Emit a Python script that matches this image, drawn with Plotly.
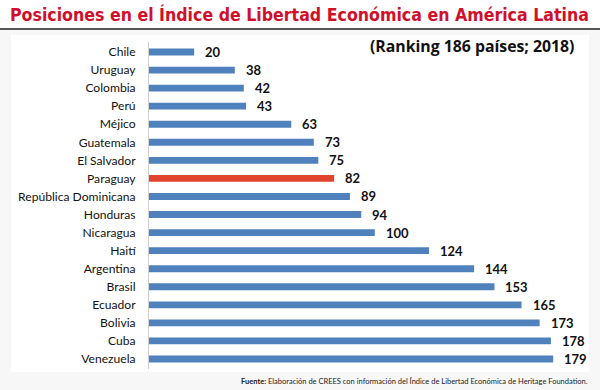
import plotly.graph_objects as go

countries = ["Chile", "Uruguay", "Colombia", "Perú", "Méjico", "Guatemala", "El Salvador",
             "Paraguay", "República Dominicana", "Honduras", "Nicaragua", "Haití", "Argentina",
             "Brasil", "Ecuador", "Bolivia", "Cuba", "Venezuela"]
ranks = [20, 38, 42, 43, 63, 73, 75, 82, 89, 94, 100, 124, 144, 153, 165, 173, 178, 179]
highlight = "Paraguay"

W, H = 600, 390
# plot area in window pixels
PL, PR, PT, PB = 149, 578, 42, 369
L, R, T, B = PL, W - PR, PT, H - PB
PW, PH = PR - PL, PB - PT


def px_x(x):
    return (x - PL) / PW


def px_y(y):
    return 1 - (y - PT) / PH


BLUE = "#4F81BD"
RED = "#E0442C"
colors = [RED if c == highlight else BLUE for c in countries]

fig = go.Figure()
fig.add_trace(go.Bar(
    x=ranks, y=countries, orientation="h",
    marker=dict(color=colors, line=dict(width=0)),
    hoverinfo="skip",
))

for c, v in zip(countries, ranks):
    fig.add_annotation(x=v, y=c, xref="x", yref="y", text=f"<b>{v}</b>",
                       showarrow=False, xanchor="left", yanchor="middle", xshift=9,
                       font=dict(family="Lato", size=13, color="#111111"))

fig.add_annotation(x=px_x(576), y=px_y(46), xref="paper", yref="paper",
                   text="<b>(Ranking 186 países; 2018)</b>", showarrow=False,
                   xanchor="right", yanchor="middle",
                   font=dict(family="Open Sans", size=15.8, color="#111111"))

fig.add_annotation(x=px_x(590), y=px_y(381), xref="paper", yref="paper",
                   text="<b>Fuente:</b> Elaboración de CREES con información del Índice de Libertad Económica de Heritage Foundation.",
                   showarrow=False, xanchor="right", yanchor="middle",
                   font=dict(family="Lato", size=7.5, color="#222222"))

# background panel and title rule
fig.add_shape(type="rect", xref="paper", yref="paper", layer="below",
              x0=px_x(11), x1=px_x(589), y0=px_y(372), y1=px_y(35),
              fillcolor="white", line=dict(width=0))
fig.add_shape(type="rect", xref="paper", yref="paper", layer="below",
              x0=px_x(0), x1=px_x(600), y0=px_y(29), y1=px_y(0),
              fillcolor="white", line=dict(width=0))
fig.add_shape(type="line", xref="paper", yref="paper",
              x0=px_x(0), x1=px_x(600), y0=px_y(29), y1=px_y(29),
              line=dict(color="#555555", width=2))

fig.update_layout(
    width=W, height=H,
    margin=dict(l=L, r=R, t=T, b=B),
    paper_bgcolor="#f7f7f7", plot_bgcolor="rgba(0,0,0,0)",
    bargap=0.62, showlegend=False,
    title=dict(text="<b>Posiciones en el Índice de Libertad Económica en América Latina</b>",
               xref="container", yref="container", x=10 / W, xanchor="left",
               y=1 - 14.5 / H, yanchor="middle",
               font=dict(family="DejaVu Sans Condensed", size=17.6, color="#D0102A")),
    xaxis=dict(range=[0, 190], visible=False, fixedrange=True),
    yaxis=dict(autorange="reversed", showline=True, linecolor="#d0d0d0", linewidth=1,
               ticks="", showgrid=False, ticklabelstandoff=10, fixedrange=True,
               tickfont=dict(family="Lato", size=12.1, color="#111111")),
)

fig.write_html("out.html", config={"displayModeBar": False},
               post_script="document.body.style.margin='0';")
